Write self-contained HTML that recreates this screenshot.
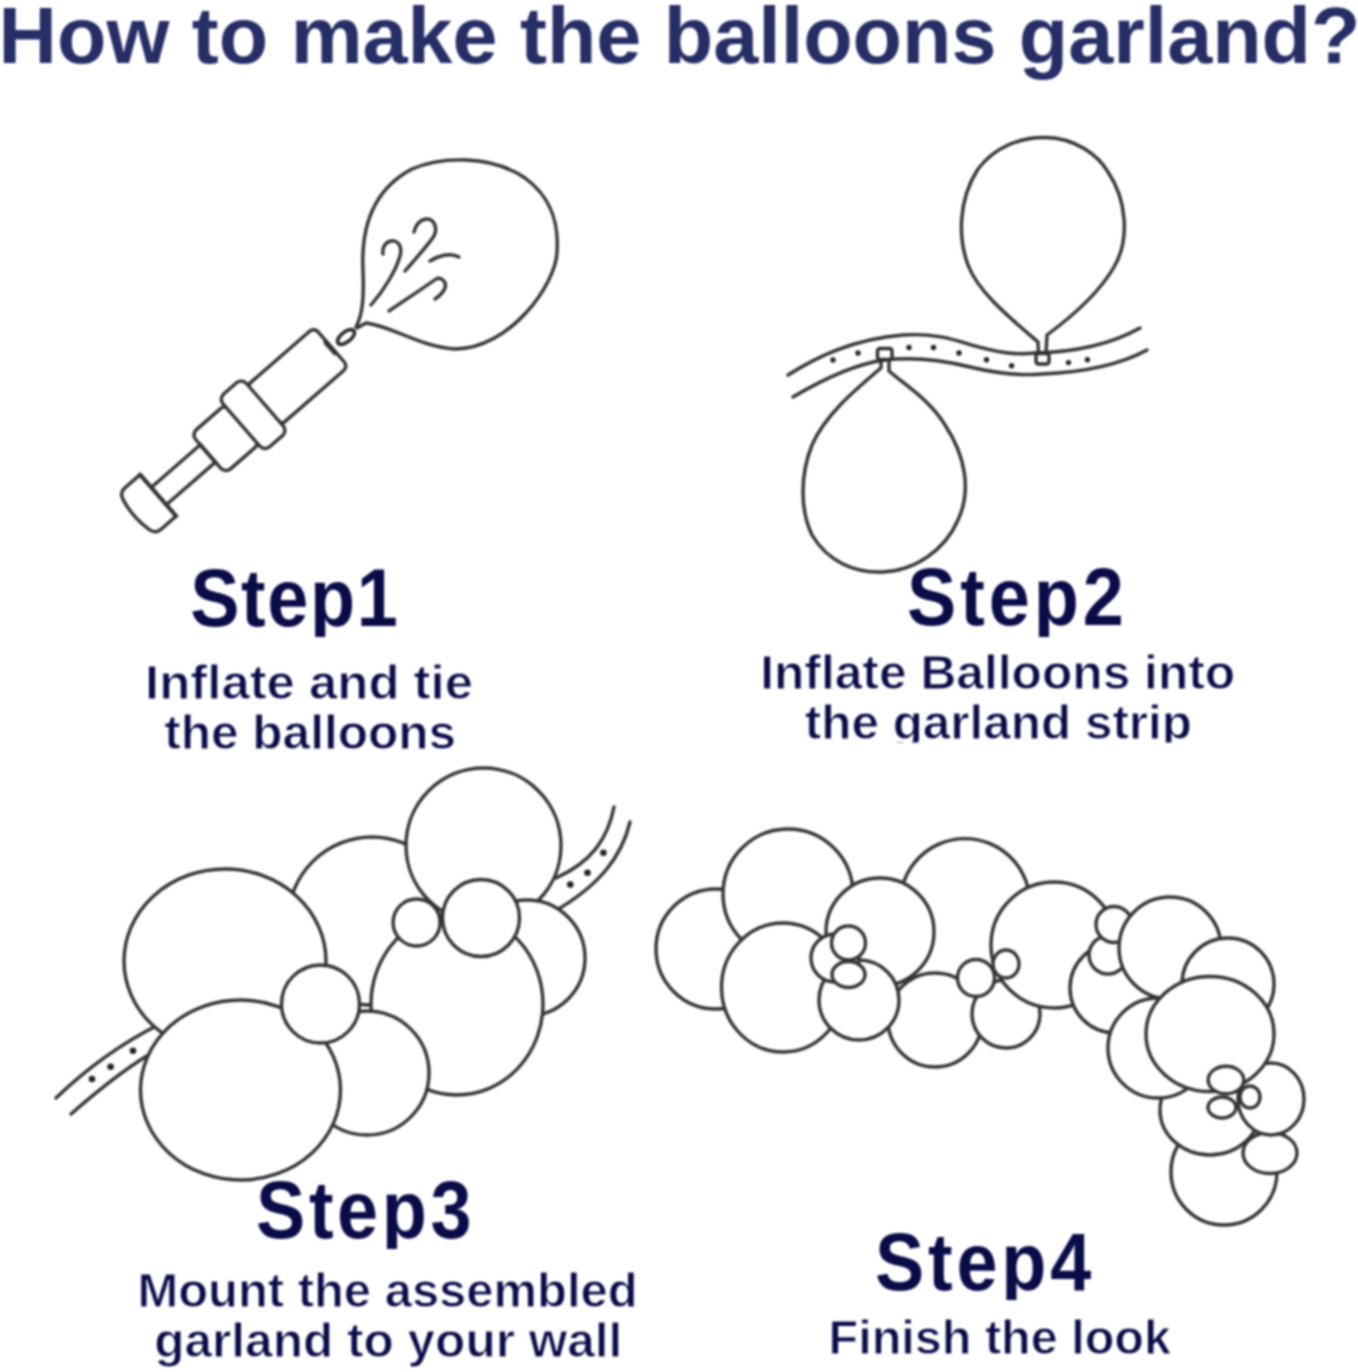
<!DOCTYPE html>
<html><head><meta charset="utf-8">
<style>
html,body{margin:0;padding:0;background:#fff;}
body{width:1358px;height:1372px;overflow:hidden;}
svg{display:block;filter:blur(0.8px);}
.ln{fill:none;stroke:#333;stroke-width:3.4;stroke-linecap:round;stroke-linejoin:round;}
.c{fill:#fff;stroke:#333;stroke-width:3.4;}
.t{font-family:"Liberation Sans",sans-serif;font-weight:bold;}
</style></head>
<body>
<svg width="1358" height="1372" viewBox="0 0 1358 1372">
<defs><clipPath id="cl2"><rect x="700" y="690" width="600" height="52.5"/></clipPath><clipPath id="cStep1"><rect x="0" y="540" width="1358" height="97"/></clipPath><clipPath id="cStep2"><rect x="0" y="540" width="1358" height="97"/></clipPath><clipPath id="cStep3"><rect x="0" y="1150" width="1358" height="99"/></clipPath><clipPath id="cStep4"><rect x="0" y="1200" width="1358" height="100"/></clipPath></defs>
<rect width="1358" height="1372" fill="#fff"/>
<!-- TITLE -->
<text class="t" x="-1.4" y="62.5" font-size="80.5" fill="#262e66" textLength="1361.8" lengthAdjust="spacingAndGlyphs">How to make the balloons garland?</text>

<!-- STEP1 ART -->
<g id="s1">
<!-- balloon -->
<path class="ln" d="M356,327 C363,314 364,296 363,270 C361,228 372,190 412,169 C440,157 490,154 525,178 C551,197 559,222 557,252 C556,284 510,349 455,349 C420,347 392,326 366,323 L357,328"/>
<!-- swirls -->
<path class="ln" d="M371,305 C385,289 396,270 400,256 C403,245 397,240 391,241 C385,242 382,248 383,254"/>
<path class="ln" d="M405,271 C418,256 428,245 434,236 C438,228 434,219 427,219 C420,219 415,226 414,232"/>
<path class="ln" d="M430,261 C438,256 450,252 459,257"/>
<path class="ln" d="M389,311 C405,300 425,287 436,279 C442,276 447,283 445,288 C443,293 438,297 435,299"/>
<!-- pump -->
<g transform="translate(331.2,346.9) rotate(-41)">

<rect class="c" x="-90" y="-26" width="90" height="52" rx="6"/>
<line class="ln" x1="-228" y1="-12" x2="-163" y2="-12"/>
<line class="ln" x1="-228" y1="11" x2="-163" y2="11"/>
<rect class="c" x="-163" y="-26" width="46" height="52" rx="7"/>
<rect class="c" x="-119" y="-35" width="31" height="70" rx="7"/>
<path class="c" d="M-228,-29 L-248,-29 Q-255,-29 -257,-22 Q-262,-2 -257,19 Q-255,26 -248,26 L-228,26 Z"/>
<path class="ln" d="M-228,-29 L-228,26" style="stroke-width:4"/>
<path class="ln" d="M-163,-13 L-163,12" style="stroke-width:3.8"/>
<path class="ln" d="M-1,-7 L-1,7" style="stroke-width:5"/>
</g>
<ellipse cx="346" cy="337" rx="10" ry="5" transform="rotate(-38 346 337)" style="fill:none;stroke:#2a2a2a;stroke-width:3.6"/>
</g>
<!-- STEP2 ART -->
<g id="s2">
<!-- strip -->
<path class="ln" d="M788,375 C815,358 852,339 903,335 C935,333 955,340 970,344.6 C1000,353 1015,355 1035,353 C1080,352 1115,342 1140,328"/>
<path class="ln" d="M793,397 C815,384 850,365 884,360 C920,356 950,362 970,367 C995,373 1020,376 1042,374 C1090,372 1125,362 1147,350"/>
<g fill="#222">
<circle cx="833" cy="360" r="2.7"/><circle cx="858" cy="353" r="2.7"/><circle cx="909" cy="347.5" r="2.7"/>
<circle cx="933.5" cy="347.5" r="2.7"/><circle cx="959" cy="353" r="2.7"/><circle cx="986.5" cy="359.8" r="2.7"/>
<circle cx="1011.6" cy="365.8" r="2.7"/><circle cx="1068.5" cy="362.6" r="2.7"/><circle cx="1087.4" cy="359.7" r="2.7"/>
</g>
<!-- top balloon -->
<path class="ln" d="M1038.5,353 L1038,342 C1010,318 978,292 968,265 C958,238 958,200 978,169 C995,147 1020,137 1046,137.5 C1075,138 1098,155 1108,172 C1127,200 1130,240 1114,267 C1098,295 1070,318 1047,335 L1046,353"/>
<rect x="1036" y="353.5" width="13" height="10.5" rx="2.5" style="fill:#fff;stroke:#2e2e2e;stroke-width:3.4"/>
<!-- bottom balloon -->
<path class="ln" d="M881,359 L881,368 C855,390 825,415 812,445 C800,475 800,510 812,535 C828,562 855,573 882,572 C915,571 945,550 958,520 C972,490 965,455 945,425 C930,400 905,385 889,371 L889,359"/>
<rect x="877.5" y="348.5" width="14.5" height="11" rx="2.5" style="fill:#fff;stroke:#2e2e2e;stroke-width:3.4"/>
</g>
<!-- STEP3 ART -->
<g id="s3">
<!-- strips -->
<path class="ln" d="M56,1098 C82,1073 118,1045 160,1024"/>
<path class="ln" d="M71,1114 C95,1093 120,1072 150,1054"/>
<path class="ln" d="M614,807 C608,838 592,862 556,878"/>
<path class="ln" d="M630,822 C622,856 600,885 555,911"/>
<g fill="#222">
<circle cx="92" cy="1079" r="3.3"/><circle cx="110.6" cy="1066.8" r="3.3"/><circle cx="133" cy="1050.7" r="3.3"/>
<circle cx="603.4" cy="852.8" r="3.3"/><circle cx="587.5" cy="872.7" r="3.3"/><circle cx="570.3" cy="884.6" r="3.3"/>
</g>
<circle class="c" cx="372" cy="921" r="84"/>
<ellipse class="c" cx="225" cy="961" rx="101" ry="92"/>
<circle class="c" cx="483.5" cy="845.5" r="77.5"/>
<circle class="c" cx="527" cy="958" r="58"/>
<ellipse class="c" cx="457" cy="1004" rx="86" ry="91"/>
<circle class="c" cx="367" cy="1073" r="62"/>
<ellipse class="c" cx="240.5" cy="1090" rx="100" ry="90"/>
<circle class="c" cx="320.5" cy="1004" r="39"/>
<circle class="c" cx="416.6" cy="922.5" r="23.5"/>
<circle class="c" cx="481" cy="918" r="38.5"/>
</g>
<!-- STEP4 ART -->
<g id="s4">
<circle class="c" cx="716" cy="949" r="60"/>
<circle class="c" cx="788" cy="894" r="65"/>
<ellipse class="c" cx="783" cy="987.5" rx="61.5" ry="64.5"/>
<path class="ln" d="M901,915 A65,65 0 1,1 1029,915"/>
<circle class="c" cx="880" cy="932" r="54"/>
<circle class="c" cx="935" cy="1020" r="47"/>
<circle class="c" cx="859" cy="1000" r="40"/>
<circle class="c" cx="835" cy="958" r="24"/>
<ellipse class="c" cx="848.5" cy="943" rx="17" ry="17"/>
<ellipse class="c" cx="848.5" cy="974.5" rx="16.5" ry="13"/>
<circle class="c" cx="1006" cy="1014" r="34"/>
<circle class="c" cx="1054" cy="945" r="63"/>
<circle class="c" cx="976" cy="978" r="18.5"/>
<ellipse class="c" cx="1006" cy="964" rx="13" ry="14"/>
<circle class="c" cx="1224" cy="1172" r="53"/>
<ellipse class="c" cx="1270" cy="1153" rx="27" ry="20.5"/>
<ellipse class="c" cx="1210" cy="1110" rx="50" ry="45"/>
<ellipse class="c" cx="1271" cy="1099" rx="33" ry="36"/>
<circle class="c" cx="1115" cy="988" r="45"/>
<circle class="c" cx="1158" cy="1048" r="50"/>
<circle class="c" cx="1108" cy="955" r="19"/>
<circle class="c" cx="1114" cy="924.5" r="18"/>
<circle class="c" cx="1170" cy="948" r="51"/>
<circle class="c" cx="1228" cy="984" r="46"/>
<ellipse class="c" cx="1210" cy="1034" rx="64" ry="57.5"/>
<ellipse class="c" cx="1226" cy="1080" rx="17.8" ry="13.8"/>
<ellipse class="c" cx="1222" cy="1107.5" rx="14" ry="10.5"/>
<ellipse class="c" cx="1250" cy="1097" rx="10" ry="11"/>
</g>

<!-- TEXTS -->
<g class="t" fill="#0a0c48">
<g clip-path="url(#cStep1)"><text transform="scale(0.9,1)" x="211.3" y="626" font-size="82" textLength="230.6" lengthAdjust="spacing">Step1</text></g>
<g clip-path="url(#cStep2)"><text transform="scale(0.9,1)" x="1007.9" y="625.5" font-size="82" textLength="240.8" lengthAdjust="spacing">Step2</text></g>
<g clip-path="url(#cStep3)"><text transform="scale(0.9,1)" x="284.5" y="1238" font-size="82" textLength="239.5" lengthAdjust="spacing">Step3</text></g>
<g clip-path="url(#cStep4)"><text transform="scale(0.9,1)" x="972.3" y="1290" font-size="82" textLength="240.3" lengthAdjust="spacing">Step4</text></g>
<text stroke="#fff" stroke-width="1" x="145.1" y="699" font-size="48" textLength="327.9" lengthAdjust="spacingAndGlyphs">Inflate and tie</text>
<text stroke="#fff" stroke-width="1" x="164.2" y="749" font-size="48" textLength="292.0" lengthAdjust="spacingAndGlyphs">the balloons</text>
<text stroke="#fff" stroke-width="1" x="760.2" y="689" font-size="48" textLength="475.0" lengthAdjust="spacingAndGlyphs">Inflate Balloons into</text>
<text stroke="#fff" stroke-width="1" clip-path="url(#cl2)" x="804.8" y="739" font-size="48" textLength="387.2" lengthAdjust="spacingAndGlyphs">the garland strip</text>
<text stroke="#fff" stroke-width="1" x="137.4" y="1307" font-size="48" textLength="500.2" lengthAdjust="spacingAndGlyphs">Mount the assembled</text>
<text stroke="#fff" stroke-width="1" x="154.2" y="1357" font-size="48" textLength="468.2" lengthAdjust="spacingAndGlyphs">garland to your wall</text>
<text stroke="#fff" stroke-width="1" x="828.6" y="1354" font-size="48" textLength="342.4" lengthAdjust="spacingAndGlyphs">Finish the look</text>
</g>
</svg>
</body></html>
